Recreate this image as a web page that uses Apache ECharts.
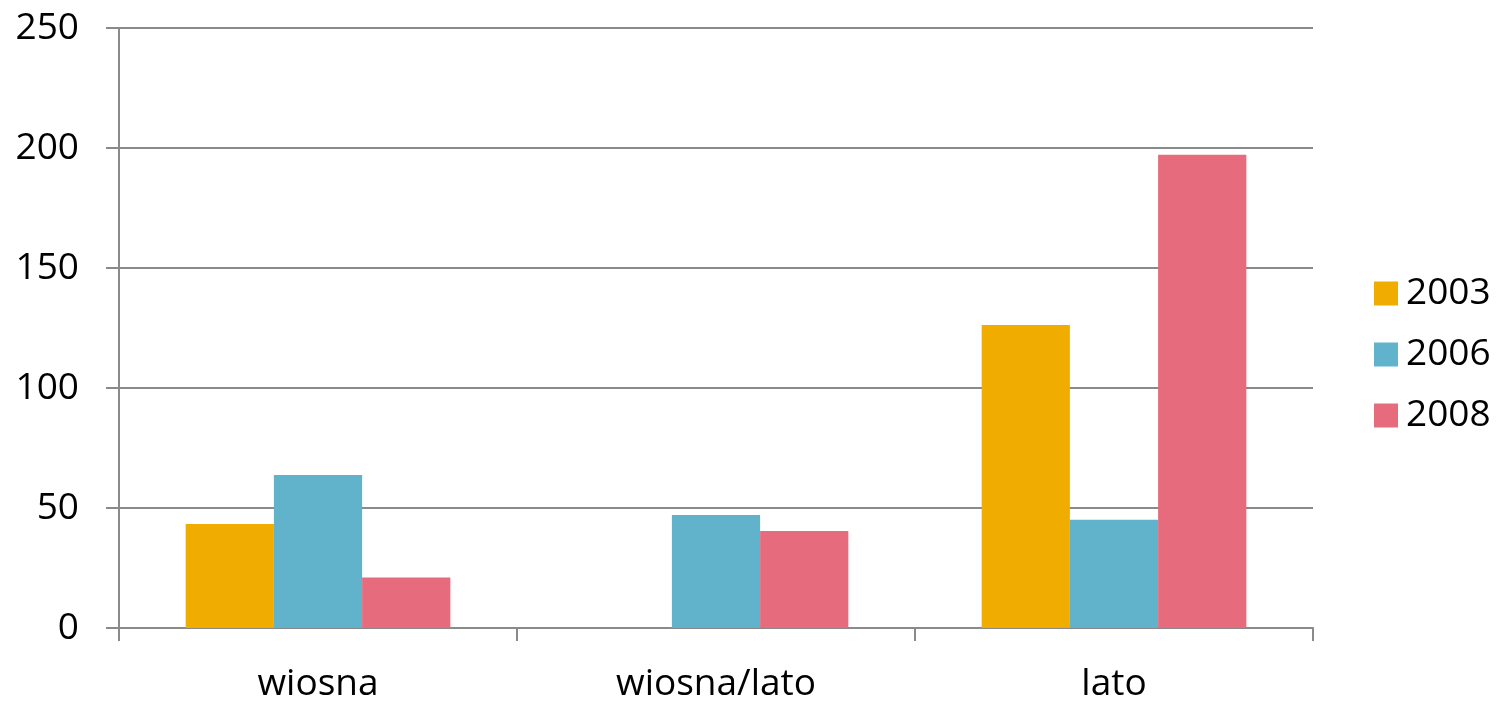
<!DOCTYPE html>
<html>
<head>
<meta charset="utf-8">
<script src="https://cdn.jsdelivr.net/npm/echarts@6/dist/echarts.min.js"></script>
<style>
  html, body { margin: 0; padding: 0; background: #ffffff; }
  #chart { width: 1501px; height: 703px; }
</style>
</head>
<body>
<div id="chart"></div>
<script>
// Seasons on the category axis
const categories = ['wiosna', 'wiosna/lato', 'lato'];
// Series per year ('-' = no value)
const years = ['2003', '2006', '2008'];
const values2003 = [43.3, '-', 126.3];
const values2006 = [63.7, 47.1, 45.1];
const values2008 = [21.0, 40.4, 197.2];
const yTicks = { min: 0, max: 250, interval: 50 };

const colors = ['#F0AD00', '#61B3CC', '#E66B7D'];
const axisGray = '#8a8a8a';
const font = '"Open Sans", "Noto Sans", sans-serif';

const seriesData = [values2003, values2006, values2008];

const chart = echarts.init(document.getElementById('chart'), null, { renderer: 'canvas' });
chart.setOption({
  animation: false,
  backgroundColor: '#ffffff',
  color: colors,
  grid: { left: 119, right: 188, top: 28, bottom: 75, containLabel: false },
  legend: {
    orient: 'vertical',
    left: 1369,
    top: 270,
    icon: 'rect',
    itemWidth: 24,
    itemHeight: 24,
    itemGap: 24,
    data: years,
    textStyle: { fontFamily: font, fontSize: 37, color: '#000', padding: [0, 0, 0, 3] }
  },
  xAxis: {
    type: 'category',
    data: categories,
    axisLine: { show: true, lineStyle: { color: axisGray, width: 2 } },
    axisTick: { show: true, length: 13, alignWithLabel: false, lineStyle: { color: axisGray, width: 2 } },
    axisLabel: { fontFamily: font, fontSize: 37, color: '#000', margin: 38 },
    splitLine: { show: false }
  },
  yAxis: {
    type: 'value',
    min: yTicks.min,
    max: yTicks.max,
    interval: yTicks.interval,
    axisLine: { show: true, lineStyle: { color: axisGray, width: 2 } },
    axisTick: { show: true, length: 13, lineStyle: { color: axisGray, width: 2 } },
    axisLabel: { fontFamily: font, fontSize: 37, color: '#000', margin: 40 },
    splitLine: { show: true, lineStyle: { color: axisGray, width: 2 } }
  },
  series: years.map((y, i) => ({
    name: y,
    type: 'bar',
    data: seriesData[i],
    barGap: '0%',
    barCategoryGap: '33.5%',
    itemStyle: { color: colors[i] }
  }))
});
</script>
</body>
</html>
